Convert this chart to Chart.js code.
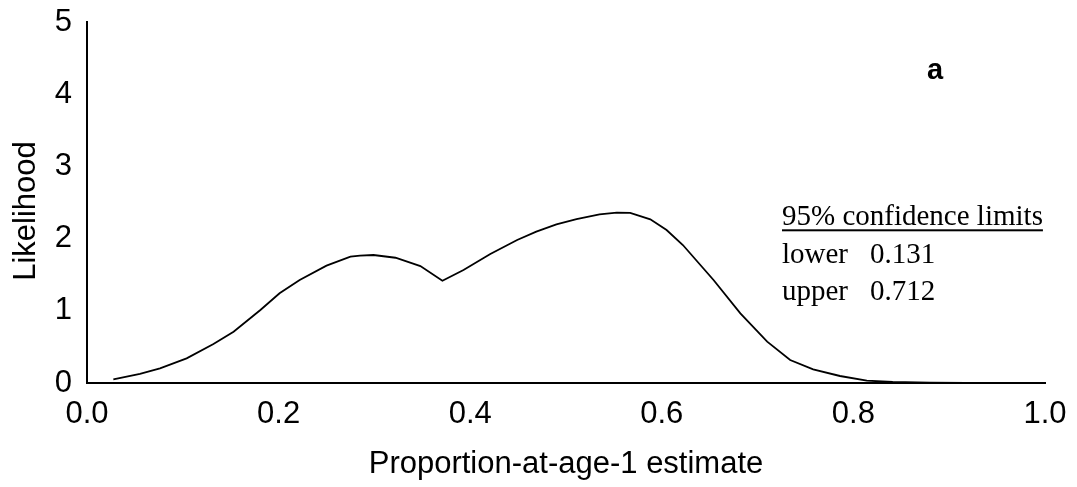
<!DOCTYPE html>
<html>
<head>
<meta charset="utf-8">
<script src="https://cdn.jsdelivr.net/npm/chart.js@4.4.1/dist/chart.umd.min.js"></script>
<style>
  html, body { margin: 0; padding: 0; background: #fff; }
  #wrap { width: 1077px; height: 487px; }
</style>
</head>
<body>
<div id="wrap"><canvas id="chart" width="1077" height="487"></canvas></div>
<script>
// Profile likelihood of the proportion-at-age-1 estimate
const proportion = [0.0275, 0.0553, 0.0762, 0.104, 0.132, 0.153, 0.181, 0.201, 0.222, 0.250,
                    0.275, 0.285, 0.299, 0.322, 0.348, 0.371, 0.393, 0.421, 0.449, 0.469,
                    0.490, 0.511, 0.535, 0.553, 0.567, 0.588, 0.605, 0.622, 0.654, 0.682,
                    0.710, 0.734, 0.758, 0.786, 0.814, 0.841, 0.880, 0.918];
const likelihood = [0.051, 0.125, 0.204, 0.342, 0.540, 0.711, 1.011, 1.242, 1.427, 1.625,
                    1.749, 1.763, 1.773, 1.735, 1.620, 1.417, 1.565, 1.787, 1.981, 2.096,
                    2.198, 2.271, 2.337, 2.359, 2.355, 2.267, 2.119, 1.911, 1.427, 0.965,
                    0.572, 0.319, 0.190, 0.097, 0.032, 0.014, 0.004, 0.000];

const xTicks = [0.0, 0.2, 0.4, 0.6, 0.8, 1.0];
const yTicks = [0, 1, 2, 3, 4, 5];

const xTitle = 'Proportion-at-age-1 estimate';
const yTitle = 'Likelihood';
const panelLabel = 'a';
const limitsHeading = '95% confidence limits';
const limitNames = ['lower', 'upper'];
const limitValues = ['0.131', '0.712'];

const SANS = '"Liberation Sans", Arial, sans-serif';
const SERIF = '"Liberation Serif", "Times New Roman", serif';

// Rotated y title, panel letter and the confidence-limit box
const notes = {
  id: 'notes',
  afterDraw(chart) {
    const ctx = chart.ctx;
    const area = chart.chartArea;
    ctx.save();
    ctx.fillStyle = '#000';

    ctx.save();
    ctx.font = '31px ' + SANS;
    ctx.textAlign = 'center';
    ctx.textBaseline = 'alphabetic';
    ctx.translate(35, area.top + 189);
    ctx.rotate(-Math.PI / 2);
    ctx.fillText(yTitle, 0, 0);
    ctx.restore();

    ctx.textBaseline = 'alphabetic';
    ctx.textAlign = 'left';

    ctx.font = 'bold 29px ' + SANS;
    ctx.fillText(panelLabel, area.left + 840, area.top + 57);

    const left = area.left + 695;
    ctx.font = '29px ' + SERIF;
    ctx.fillText(limitsHeading, left, area.top + 203);
    const w = ctx.measureText(limitsHeading).width;
    ctx.fillRect(left, area.top + 207.3, w, 2);

    limitNames.forEach((name, i) => {
      const base = area.top + 241 + i * 37;
      ctx.fillText(name, left, base);
      ctx.fillText(limitValues[i], left + 88, base);
    });
    ctx.restore();
  }
};

new Chart(document.getElementById('chart'), {
  type: 'line',
  data: {
    datasets: [{
      data: proportion.map((p, i) => ({ x: p, y: likelihood[i] })),
      borderColor: '#000',
      borderWidth: 1.8,
      pointRadius: 0,
      tension: 0,
      fill: false
    }]
  },
  options: {
    responsive: false,
    animation: false,
    events: [],
    layout: { padding: { top: 22, right: 32, left: 0, bottom: 0 } },
    plugins: { legend: { display: false }, tooltip: { enabled: false } },
    scales: {
      x: {
        type: 'linear',
        min: 0,
        max: 1,
        afterBuildTicks(scale) { scale.ticks = xTicks.map(v => ({ value: v })); },
        afterFit(scale) {
          scale.height = 104;
          scale.paddingLeft = 0;
          scale.paddingRight = 0;
        },
        grid: { display: false, drawTicks: false },
        border: { display: true, color: '#000', width: 2 },
        ticks: {
          color: '#000',
          font: { family: SANS, size: 31 },
          padding: 13,
          maxRotation: 0,
          callback: v => v.toFixed(1)
        },
        title: {
          display: true,
          text: xTitle,
          color: '#000',
          font: { family: SANS, size: 31 },
          padding: { top: 0, bottom: 4.1 }
        }
      },
      y: {
        type: 'linear',
        min: 0,
        max: 5,
        afterBuildTicks(scale) { scale.ticks = yTicks.map(v => ({ value: v })); },
        afterFit(scale) {
          scale.width = 87;
          scale.paddingTop = 0;
          scale.paddingBottom = 0;
        },
        grid: { display: false, drawTicks: false },
        border: { display: true, color: '#000', width: 2 },
        ticks: {
          color: '#000',
          font: { family: SANS, size: 31 },
          padding: 15,
          callback: v => String(v)
        }
      }
    }
  },
  plugins: [notes]
});
</script>
</body>
</html>
